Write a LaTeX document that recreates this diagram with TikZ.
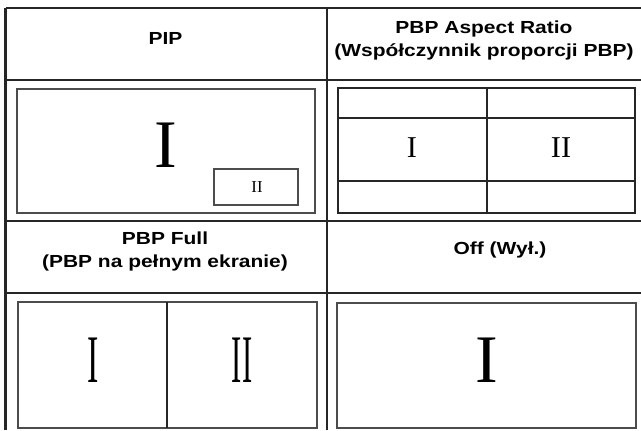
\documentclass[tikz,border=0pt]{standalone}
\usepackage{fontspec}
\setmainfont{Liberation Serif}
\setsansfont{Liberation Sans}
\usepackage{graphicx}

% header text is set a bit wider than the font
\newcommand{\hdrtext}[1]{\scalebox{1.2}[1]{\begin{tabular}{@{}c@{}}#1\end{tabular}}}

\begin{document}
\begin{tikzpicture}[x=0.75pt, y=-0.75pt,
    grid/.style={draw=black!85, line width=1.8pt},
    screen/.style={draw=black!70, line width=1.1pt},
    header/.style={font=\sffamily\bfseries\fontsize{13.1}{17.3}\selectfont, inner sep=0pt},
    bignum/.style={font=\rmfamily\fontsize{51}{51}\selectfont, inner sep=0pt},
    midnum/.style={font=\rmfamily\fontsize{22.7}{23}\selectfont, inner sep=0pt},
    smallnum/.style={font=\rmfamily\fontsize{12.5}{13}\selectfont, inner sep=0pt}
]
    \useasboundingbox (0,0) rectangle (641,430);

    % table lines
    \draw[grid] (5.5,8) -- (641,8);
    \draw[grid] (5.5,80) -- (641,80);
    \draw[grid] (5.5,221) -- (641,221);
    \draw[grid] (5.5,293) -- (641,293);
    \draw[grid] (5.5,8) -- (5.5,430);
    \draw[grid] (327,8) -- (327,430);

    % headers
    \node[header] (pip) at (165.5,39.5) {\hdrtext{PIP}};
    \node[header] (aspect) at (484,40) {\hdrtext{PBP Aspect Ratio\\(Współczynnik proporcji PBP)}};
    \node[header] (full) at (165,251) {\hdrtext{PBP Full\\(PBP na pełnym ekranie)}};
    \node[header] (off) at (500,250) {\hdrtext{Off (Wył.)}};

    % PIP
    \draw[screen] (17,89) rectangle (315,213);
    \draw[screen] (214,169) rectangle (298,205);
    \node[bignum] (pipmain) at (166,145.5) {I};
    \node[smallnum] (pipsub) at (257,187) {II};

    % PBP aspect ratio
    \draw[screen, draw=black!85] (338,88) rectangle (635,213);
    \draw[screen, draw=black!85] (338,118) -- (635,118);
    \draw[screen, draw=black!85] (338,181) -- (635,181);
    \draw[screen, draw=black!85] (487,88) -- (487,213);
    \node[midnum] (aspectleft) at (412,148) {I};
    \node[midnum] (aspectright) at (561,148) {II};

    % PBP full
    \draw[screen] (18,302) rectangle (317,428);
    \draw[screen, draw=black!85] (167,302) -- (167,428);
    \node[bignum] (fullleft) at (93,360) {\scalebox{0.5}[1]{I}};
    \node[bignum] (fullright) at (242,360) {\scalebox{0.45}[1]{II}};

    % off
    \draw[screen] (337,303) rectangle (636,428);
    \node[bignum] (offmain) at (487,360.5) {I};
\end{tikzpicture}
\end{document}
